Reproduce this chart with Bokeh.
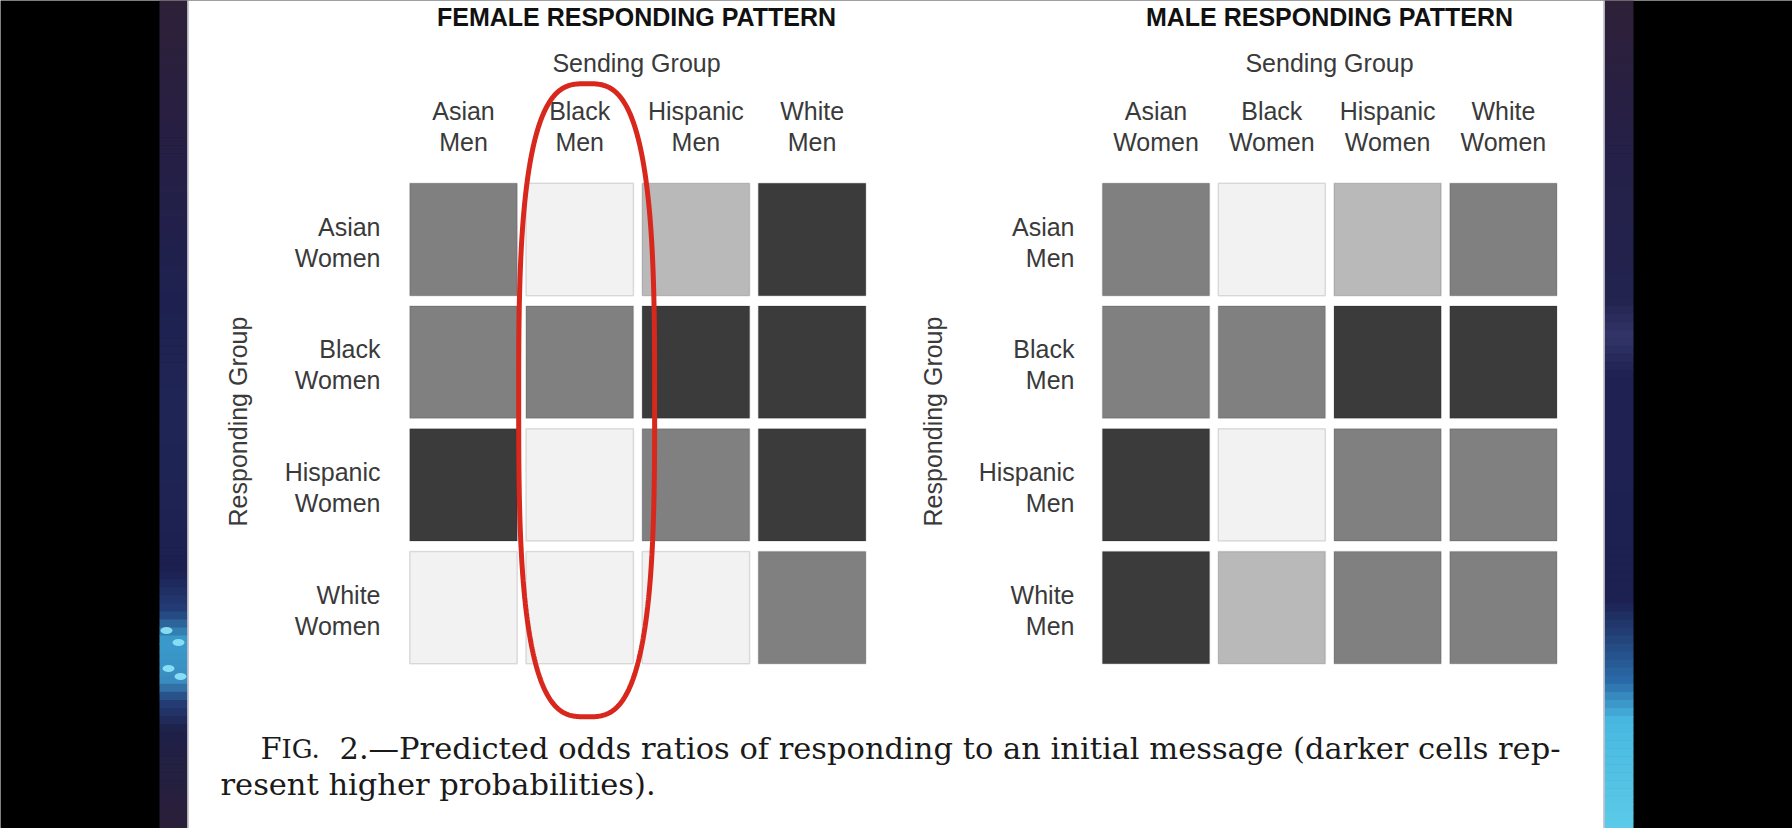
import numpy as np
from bokeh.plotting import figure
from bokeh.models import Range1d, ColumnDataSource, LinearColorMapper
from bokeh.core.properties import value
from bokeh.embed import file_html
from bokeh.resources import INLINE

# ---------------- data ----------------
female_sending = ["Asian Men", "Black Men", "Hispanic Men", "White Men"]
female_responding = ["Asian Women", "Black Women", "Hispanic Women", "White Women"]
male_sending = ["Asian Women", "Black Women", "Hispanic Women", "White Women"]
male_responding = ["Asian Men", "Black Men", "Hispanic Men", "White Men"]

# shading level of predicted odds ratio (0 = lowest ... 3 = highest)
female_levels = [
    [2, 0, 1, 3],
    [2, 2, 3, 3],
    [3, 0, 2, 3],
    [0, 0, 0, 2],
]
male_levels = [
    [2, 0, 1, 2],
    [2, 2, 3, 3],
    [3, 0, 2, 2],
    [3, 1, 2, 2],
]

titles = ["FEMALE RESPONDING PATTERN", "MALE RESPONDING PATTERN"]
x_title = "Sending Group"
y_title = "Responding Group"
caption_fig = ["F", "IG."]
caption_line1 = "2.\u2014Predicted odds ratios of responding to an initial message (darker cells rep-"
caption_line2 = "resent higher probabilities)."
highlight_column = "Black Men"

# ---------------- layout / style ----------------
SHADES = ["#f2f2f2", "#b9b9b9", "#808080", "#3b3b3b"]
SANS = value("Liberation Sans")
SERIF = value("DejaVu Serif")
W, H = 1792, 828

p = figure(width=W, height=H, x_range=Range1d(0, W), y_range=Range1d(H, 0),
           output_backend="svg", toolbar_location=None, min_border=0)
p.axis.visible = False
p.grid.visible = False
p.outline_line_color = None
p.background_fill_color = "black"
p.border_fill_color = "black"


def xr(c0, pitch):
    s = (0 - c0) / pitch
    return Range1d(s, s + W / pitch)


def yr(r0, pitch):
    sb = (H - r0) / pitch
    return Range1d(sb, sb - H / pitch)


p.extra_x_ranges = {"fx": xr(463, 116.2), "mx": xr(1155.5, 115.8)}
p.extra_y_ranges = {"ry": yr(239, 122.7)}


# ---- page background (video frame side strips, smooth vertical gradient) ----
def hex2rgb(h):
    return [int(h[i:i + 2], 16) for i in (1, 3, 5)]


def gradient(stops, edges):
    ys = [s[0] for s in stops]
    rgb = np.array([hex2rgb(s[1]) for s in stops], dtype=float)
    mids = (edges[:-1] + edges[1:]) / 2
    out = []
    for m in mids:
        c = [int(round(np.interp(m, ys, rgb[:, k]))) for k in range(3)]
        out.append("#%02x%02x%02x" % tuple(c))
    return out


edges = np.linspace(0, H, 104)
left_stops = [(0, "#2e2038"), (150, "#261f44"), (300, "#1e2150"), (420, "#1f2656"),
              (570, "#1c2050"), (612, "#24407a"), (640, "#3a9ccc"), (680, "#3a8cc0"),
              (700, "#24407a"), (730, "#1e2048"), (828, "#2a1f38")]
right_stops = [(0, "#2e2038"), (150, "#252048"), (300, "#22234f"), (335, "#333568"),
               (375, "#1e2152"), (600, "#1d2152"), (680, "#2a6aa8"), (720, "#48b8e0"),
               (828, "#5ccbe8")]
p.quad(left=159, right=188, top=edges[:-1], bottom=edges[1:] + 0.6,
       fill_color=gradient(left_stops, edges), line_color=None)
p.quad(left=1603, right=1633, top=edges[:-1], bottom=edges[1:] + 0.6,
       fill_color=gradient(right_stops, edges), line_color=None)
p.ellipse(x=[166, 178, 168, 180], y=[630, 642, 668, 676], width=12, height=7,
          fill_color="#8fe6fa", fill_alpha=0.9, line_color=None)
p.quad(left=187, right=1604, top=0, bottom=828, fill_color="white", line_color=None)
p.segment(x0=[187.5, 1603.5], y0=[0, 0], x1=[187.5, 1603.5], y1=[828, 828],
          line_color="#b8b8c0", line_width=1.5)

mapper = LinearColorMapper(palette=SHADES, low=-0.5, high=3.5)

panels = [
    ("fx", female_sending, female_responding, female_levels, 636, 380, 237, titles[0]),
    ("mx", male_sending, male_responding, male_levels, 1329, 1074, 932, titles[1]),
]

for rname, sending, responding, levels, cx, label_right, ylab_x, title in panels:
    xs, ys, lv = [], [], []
    for j, row in enumerate(levels):
        for i, v in enumerate(row):
            xs.append(i)
            ys.append(j)
            lv.append(v)
    src = ColumnDataSource(dict(x=xs, y=ys, level=lv))
    p.rect(x="x", y="y", width=0.925, height=0.915, source=src,
           fill_color={"field": "level", "transform": mapper},
           line_color="#000000", line_alpha=0.12, line_width=1.5,
           x_range_name=rname, y_range_name="ry")

    # titles
    p.text(x=[cx], y=[16], text=[title], text_align="center", text_baseline="middle",
           text_font=SANS, text_font_style="bold", text_font_size="25px", text_color="#111111")
    p.text(x=[cx], y=[62], text=[x_title], text_align="center", text_baseline="middle",
           text_font=SANS, text_font_size="25px", text_color="#3a3a3a")

    # column labels (two lines)
    idx = list(range(len(sending)))
    p.text(x=idx, y=[110] * len(idx), text=[s.split(" ")[0] for s in sending],
           x_range_name=rname, text_align="center", text_baseline="middle",
           text_font=SANS, text_font_size="25px", text_color="#3a3a3a")
    p.text(x=idx, y=[141] * len(idx), text=[s.split(" ")[1] for s in sending],
           x_range_name=rname, text_align="center", text_baseline="middle",
           text_font=SANS, text_font_size="25px", text_color="#3a3a3a")

    # row labels (two lines)
    ridx = list(range(len(responding)))
    p.text(x=[label_right] * len(ridx), y=ridx, text=[s.split(" ")[0] for s in responding],
           y_range_name="ry", y_offset=-13, text_align="right", text_baseline="middle",
           text_font=SANS, text_font_size="25px", text_color="#3a3a3a")
    p.text(x=[label_right] * len(ridx), y=ridx, text=[s.split(" ")[1] for s in responding],
           y_range_name="ry", y_offset=18, text_align="right", text_baseline="middle",
           text_font=SANS, text_font_size="25px", text_color="#3a3a3a")

    p.text(x=[ylab_x], y=[421], text=[y_title], angle=np.pi / 2, text_align="center",
           text_baseline="middle", text_font=SANS, text_font_size="25px", text_color="#3a3a3a")

# red highlight around the "Black Men" column of the female panel
hc = female_sending.index(highlight_column)
t = np.linspace(0, 2 * np.pi, 600)
n = 3.0
ax_, by_ = 0.585, 2.58
cxh, cyh = hc + 0.06, 1.31
hx = cxh + ax_ * np.sign(np.cos(t)) * np.abs(np.cos(t)) ** (2 / n)
hy = cyh + by_ * np.sign(np.sin(t)) * np.abs(np.sin(t)) ** (2 / n)
p.line(x=hx, y=hy, line_color="#d8271d", line_width=5,
       x_range_name="fx", y_range_name="ry")

# caption
p.text(x=[260, 281], y=[748, 748], text=caption_fig, text_font_size=["30.5px", "26px"],
       text_baseline="alphabetic", text_font=SERIF, text_color="#1a1a1a")
p.text(x=[339], y=[748], text=[caption_line1], text_font_size="30.5px",
       text_baseline="alphabetic", text_font=SERIF, text_color="#1a1a1a")
p.text(x=[220], y=[784], text=[caption_line2], text_font_size="30.5px",
       text_baseline="alphabetic", text_font=SERIF, text_color="#1a1a1a")

open("out.html", "w").write(file_html(p, INLINE))
